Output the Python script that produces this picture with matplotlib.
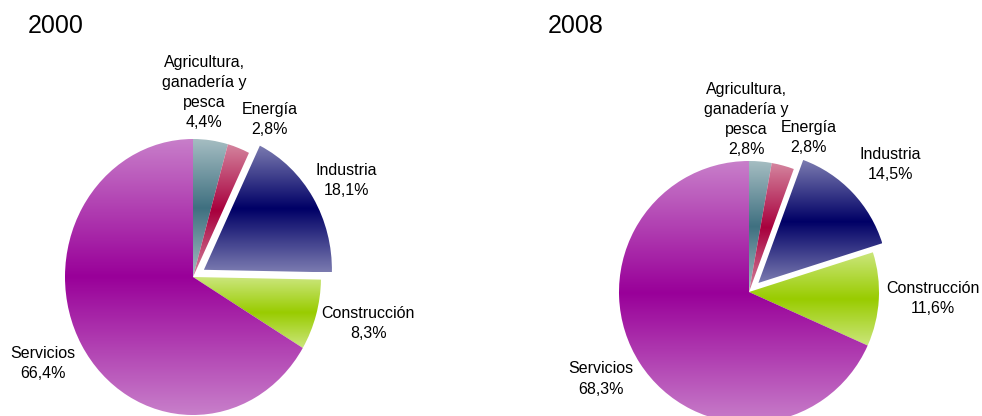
import numpy as np
import matplotlib
matplotlib.use("Agg")
import matplotlib.pyplot as plt
from matplotlib.colors import LinearSegmentedColormap, to_rgb

plt.rcParams['font.family'] = ['Liberation Sans', 'DejaVu Sans']

# datos
sectores = ["Agricultura,\nganadería y\npesca", "Energía", "Industria", "Construcción", "Servicios"]
valores_2000 = [4.4, 2.8, 18.1, 8.3, 66.4]
valores_2008 = [2.8, 2.8, 14.5, 11.6, 68.3]
anios = ["2000", "2008"]

# colores (centro oscuro, borde claro)
oscuros = ["#3f7080", "#a8003d", "#000066", "#99cc00", "#990099"]
claros = ["#a5bdc2", "#d4849e", "#7b7bb0", "#cbe67c", "#c87fca"]
explode = [0, 0, 0.1, 0, 0]

# posiciones de etiquetas (unidades del radio)
pos_2000 = [(0.086, 1.34), (0.60, 1.14), (1.20, 0.70), (1.37, -0.34), (-1.17, -0.63)]
pos_2008 = [(-0.023, 1.32), (0.46, 1.176), (1.085, 0.97), (1.415, -0.053), (-1.138, -0.664)]

W, H = 982, 416
fig = plt.figure(figsize=(W / 100, H / 100), dpi=100)


def fmt(v):
    return f"{v:.1f}".replace(".", ",") + "%"


def dibujar(rect, valores, posiciones, cx, cy, rx, ry, x0):
    ax = fig.add_axes(rect)
    ax.patch.set_alpha(0)
    wedges, _ = ax.pie(valores, startangle=90, counterclock=False,
                       explode=explode, wedgeprops=dict(linewidth=0))
    for w, osc, cla in zip(wedges, oscuros, claros):
        w.set_facecolor('none')
        w.set_edgecolor('none')
        verts = w.get_path().vertices
        xmin, ymin = verts.min(axis=0)
        xmax, ymax = verts.max(axis=0)
        cmap = LinearSegmentedColormap.from_list("g", [to_rgb(cla), to_rgb(osc), to_rgb(cla)])
        grad = np.linspace(0, 1, 256).reshape(-1, 1)
        im = ax.imshow(grad, cmap=cmap, extent=(xmin, xmax, ymin, ymax),
                       origin='lower', aspect='auto', interpolation='bilinear', zorder=1)
        im.set_clip_path(w)
    ax.set_aspect('auto')
    # limites para que el pie caiga en su sitio en pixeles
    ax.set_xlim((x0 - cx) / rx, (x0 + W / 2 - cx) / rx)
    ax.set_ylim((cy - H) / ry, cy / ry)
    ax.axis('off')
    for nombre, v, (px, py) in zip(sectores, valores, posiciones):
        ax.text(px, py, nombre + "\n" + fmt(v), ha='center', va='center',
                multialignment='center', fontsize=11.5, linespacing=1.42, zorder=5)
    return ax


dibujar([0, 0, 0.5, 1], valores_2000, pos_2000, 193, 277, 128, 138, 0)
dibujar([0.5, 0, 0.5, 1], valores_2008, pos_2008, 749, 292, 130, 131, 491)

fig.text(28 / W, 1 - 33 / H, anios[0], fontsize=18, va='baseline', ha='left')
fig.text(548 / W, 1 - 33 / H, anios[1], fontsize=18, va='baseline', ha='left')

fig.savefig("out.png", dpi=100)
